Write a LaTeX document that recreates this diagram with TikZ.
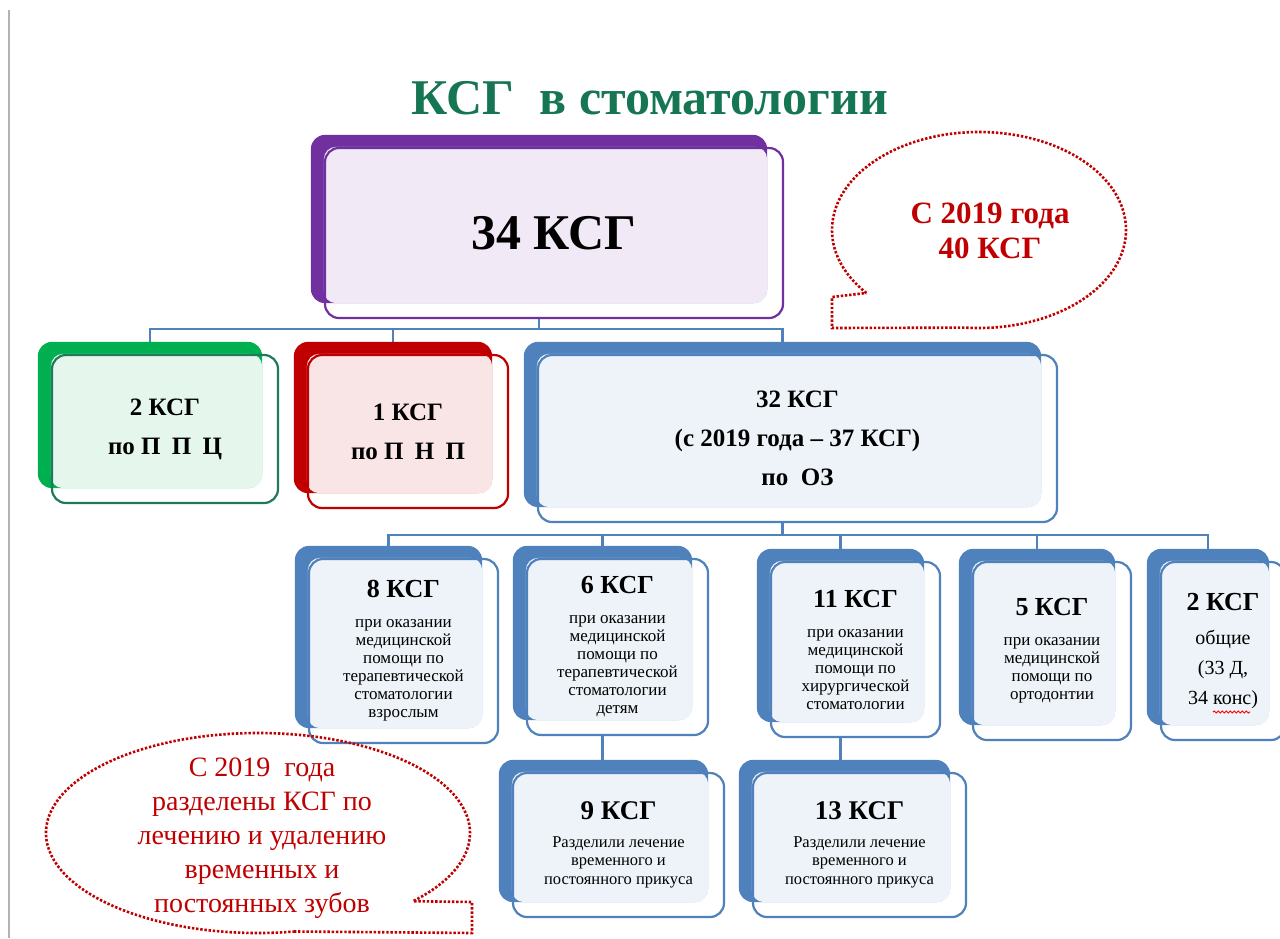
\documentclass[tikz,border=0pt]{standalone}
\usepackage{fontspec}
\setmainfont{Liberation Serif}
\usetikzlibrary{backgrounds,decorations.pathmorphing}

\definecolor{ksgpurple}{RGB}{112,48,160}
\definecolor{ksggreen}{RGB}{0,176,80}
\definecolor{ksggreendark}{RGB}{30,122,90}
\definecolor{ksgred}{RGB}{192,0,0}
\definecolor{ksgblue}{RGB}{79,129,189}
\definecolor{titlegreen}{RGB}{22,118,84}
\definecolor{notered}{RGB}{192,0,0}

\begin{document}
\begin{tikzpicture}[x=1pt,y=-1pt,semithick]
        \tikzstyle{card}=[draw, line width=2.2pt, rounded corners=14pt, inner sep=0pt, align=center]
        \tikzstyle{big}=[font=\fontsize{25}{39}\selectfont\bfseries]
        \tikzstyle{small}=[font=\fontsize{17}{18}\selectfont]
        \tikzstyle{tiny}=[font=\fontsize{16.5}{18.5}\selectfont]
        \tikzstyle{link}=[ksgblue, line width=2.4pt]
        \tikzstyle{note}=[notered, line width=2.6pt, dash pattern=on 2.4pt off 1.8pt]

        \useasboundingbox (0,0) rectangle (1280,938);
        \draw[gray!60, line width=2pt] (9,10) -- (9,938);

        \node[titlegreen, font=\fontsize{50}{60}\selectfont\bfseries] (title) at (650,98) {КСГ\ \ в стоматологии};

        \node[card, draw=ksgpurple, minimum width=458pt, minimum height=170pt,
              font=\fontsize{50}{60}\selectfont\bfseries] (total) at (554,233) {34 КСГ};

        \node[card, big, draw=ksggreendark, minimum width=226pt, minimum height=148pt] (ppc) at (165,429)
              {2 КСГ\\по П\hspace{0.45em}П\hspace{0.45em}Ц};
        \node[card, big, draw=ksgred, minimum width=200pt, minimum height=153pt] (pnp) at (408,431.5)
              {1 КСГ\\по П\hspace{0.45em}Н\hspace{0.45em}П};
        \node[card, big, draw=ksgblue, minimum width=519pt, minimum height=167pt] (oz) at (797.5,438.5)
              {32 КСГ\\(с 2019 года – 37 КСГ)\\по\ \ ОЗ};

        \node[card, small, draw=ksgblue, minimum width=189pt, minimum height=184pt] (adult) at (403.5,651)
              {{\fontsize{26}{30}\selectfont\bfseries 8 КСГ}\\[12pt]при оказании\\медицинской\\помощи по\\терапевтической\\стоматологии\\взрослым};
        \node[card, small, draw=ksgblue, minimum width=181pt, minimum height=176pt] (child) at (617.5,647)
              {{\fontsize{26}{30}\selectfont\bfseries 6 КСГ}\\[12pt]при оказании\\медицинской\\помощи по\\терапевтической\\стоматологии\\детям};
        \node[card, small, draw=ksgblue, minimum width=169pt, minimum height=175pt] (surg) at (855.5,649.5)
              {{\fontsize{26}{30}\selectfont\bfseries 11 КСГ}\\[12pt]при оказании\\медицинской\\помощи по\\хирургической\\стоматологии};
        \node[card, small, draw=ksgblue, minimum width=158pt, minimum height=178pt] (orto) at (1052,651)
              {{\fontsize{26}{30}\selectfont\bfseries 5 КСГ}\\[12pt]при оказании\\медицинской\\помощи по\\ортодонтии};
        \node[card, draw=ksgblue, minimum width=124pt, minimum height=178pt,
              font=\fontsize{20}{30}\selectfont] (common) at (1223,651)
              {{\fontsize{26}{30}\selectfont\bfseries 2 КСГ}\\[4pt]общие\\(33 Д,\\34 конс)};
        % spell-check squiggle under "конс"
        \draw[red, line width=1pt, decorate, decoration={snake, amplitude=1pt, segment length=4pt}]
              (1213,712) -- (1250,712);

        \node[card, tiny, draw=ksgblue, minimum width=211pt, minimum height=144pt] (childsplit) at (618.5,845)
              {{\fontsize{27}{30}\selectfont\bfseries 9 КСГ}\\[9pt]Разделили лечение\\временного и\\постоянного прикуса};
        \node[card, tiny, draw=ksgblue, minimum width=213pt, minimum height=144pt] (surgsplit) at (859.5,845)
              {{\fontsize{27}{30}\selectfont\bfseries 13 КСГ}\\[9pt]Разделили лечение\\временного и\\постоянного прикуса};

        \node[notered, font=\fontsize{31}{35}\selectfont\bfseries, align=center] (newtotal) at (990,231)
              {С 2019 года\\40 КСГ};
        \draw[note] (979,230) ++(140:147 and 98) arc[start angle=140, end angle=455, x radius=147, y radius=98]
              -- (832,328) -- (832,297) -- cycle;

        \node[notered, font=\fontsize{28}{34}\selectfont, align=center] (splitnote) at (262,838)
              {С 2019\ \ года\\разделены КСГ по\\лечению и удалению\\временных и\\постоянных зубов};
        \draw[note] (258,833) ++(80:212 and 100) arc[start angle=80, end angle=403, x radius=212, y radius=100]
              -- (472,902) -- (472,933) -- cycle;

        \begin{scope}[on background layer]
          \fill[white] (0,0) rectangle (1280,938);
          % connectors go to the centres of the back plates
          \draw[link] ([xshift=-15]total.south) -- ++(0,10) -| ([xshift=-15]ppc.north);
          \draw[link] ([xshift=-15]total.south) -- ++(0,10) -| ([xshift=-15]pnp.north);
          \draw[link] ([xshift=-15]total.south) -- ++(0,10) -| ([xshift=-15]oz.north);
          \foreach \n in {adult,child,surg,orto,common}
            \draw[link] ([xshift=-15]oz.south) -- ++(0,12) -| ([xshift=-15]\n.north);
          \draw[link] ([xshift=-15]child.south) -- ([xshift=-15]child.south |- childsplit.north);
          \draw[link] ([xshift=-15]surg.south) -- ([xshift=-15]surg.south |- surgsplit.north);

          % back plates and light faces
          \foreach \n/\c in {total/ksgpurple, ppc/ksggreen, pnp/ksgred, oz/ksgblue, adult/ksgblue, child/ksgblue,
                             surg/ksgblue, orto/ksgblue, common/ksgblue, childsplit/ksgblue, surgsplit/ksgblue} {
            \fill[\c, rounded corners=14pt] ([shift={(-13,-12)}]\n.north west) rectangle ([shift={(-17,-16)}]\n.south east);
            \fill[\c!10, rounded corners=12pt] (\n.north west) rectangle ([shift={(-17,-16)}]\n.south east);
          }
        \end{scope}
\end{tikzpicture}
\end{document}
